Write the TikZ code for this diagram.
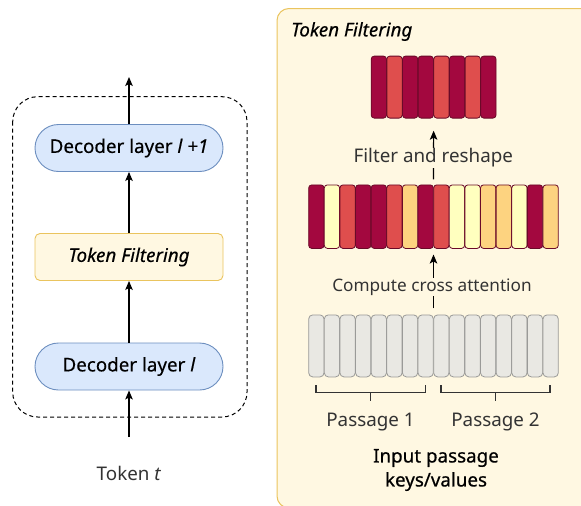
\documentclass[tikz,border=0pt]{standalone}
\usepackage{fontspec}
\setmainfont{Noto Sans}
\newfontfamily\heavy[FakeBold=0.6]{Noto Sans}
\newfontfamily\medfont[FakeBold=0.35]{Noto Sans}
\usetikzlibrary{arrows.meta,fit}
\definecolor{cD}{HTML}{A3083F}
\definecolor{cR}{HTML}{DF4E4D}
\definecolor{cO}{HTML}{FDD380}
\definecolor{cY}{HTML}{FFFFBF}
\definecolor{cellline}{HTML}{6A0A28}
\definecolor{grayfill}{HTML}{E9E8E3}
\definecolor{grayline}{HTML}{9A9A98}
\definecolor{panelfill}{HTML}{FFF8E2}
\definecolor{panelline}{HTML}{EAC45E}
\definecolor{bluefill}{HTML}{DAE8FC}
\definecolor{blueline}{HTML}{6C8EBF}
\definecolor{txtgray}{HTML}{333333}
\begin{document}
\begin{tikzpicture}[x=1pt,y=-1pt,
  font=\fontsize{18.8}{24}\selectfont,
  arr/.style={line width=1.2pt,-{Stealth[length=9pt,width=7.5pt,inset=2pt]}},
  cell/.style={draw=cellline,line width=0.8pt,rounded corners=3pt,minimum width=15.3pt,
    minimum height=62pt,inner sep=0pt,anchor=north west},
  gcell/.style={draw=grayline,fill=grayfill,line width=0.8pt,rounded corners=4pt,minimum width=15.3pt,
    minimum height=62pt,inner sep=0pt,anchor=north west},
  decbox/.style={draw=blueline,fill=bluefill,line width=0.9pt,rounded corners=23.5pt,
    minimum width=188pt,minimum height=47pt,inner sep=0pt,font=\medfont\fontsize{18.8}{24}\selectfont},
  tfbox/.style={draw=panelline,fill=panelfill,line width=0.9pt,rounded corners=5pt,
    minimum width=188pt,minimum height=47pt,inner sep=0pt,font=\medfont\fontsize{18.8}{24}\selectfont},
  lbl/.style={fill=panelfill,inner sep=1pt,text=txtgray},
  brk/.style={draw=txtgray,line width=1.2pt}]
\useasboundingbox (0,0) rectangle (581,506);
\clip (0,0) rectangle (581,506);
% right panel
\draw[panelline,fill=panelfill,line width=1pt,rounded corners=12pt] (277,8.5) rectangle (640,508);
\node[anchor=west,inner sep=0pt,font=\medfont\fontsize{18.8}{24}\selectfont] (title) at (291,31.5) {\itshape Token Filtering};
% left column
\draw[dashed,dash pattern=on 4pt off 3pt,line width=1pt,rounded corners=25pt] (12.7,96.7) rectangle (247,417);
\node[decbox] (dec2) at (129,148) {Decoder layer \textit{l +1}};
\node[tfbox] (tf) at (129,257) {\itshape Token Filtering};
\node[decbox] (dec1) at (129,366.5) {Decoder layer \textit{l}};
\node[text=txtgray] (tok) at (129,473) {Token \textit{t}};
\coordinate (in) at (129,437);
\coordinate (out) at (129,77);
\draw[arr] (in) -- (dec1.south);
\draw[arr] (dec1.north) -- (tf.south);
\draw[arr] (tf.north) -- (dec2.south);
\draw[arr] (dec2.north) -- (out);
% top row
\foreach \c [count=\i from 0] in {cD,cR,cD,cD,cR,cD,cR,cD}
  \node[cell,fill=\c] (t\i) at (370.8+\i*15.65,55.7) {};
% middle row
\foreach \c [count=\i from 0] in {cD,cY,cR,cD,cD,cR,cO,cD,cR,cY,cY,cO,cO,cY,cD,cO}
  \node[cell,fill=\c,minimum height=63.5pt] (m\i) at (308.3+\i*15.62,184.5) {};
% bottom row
\foreach \i in {0,...,15}
  \node[gcell] (b\i) at (308.3+\i*15.62,314.5) {};
\node[fit=(t0)(t7),inner sep=0pt] (toprow) {};
\node[fit=(m0)(m15),inner sep=0pt] (midrow) {};
\node[fit=(b0)(b15),inner sep=0pt] (botrow) {};
% arrows
\draw[arr] ([yshift=5pt]midrow.north) -- ([yshift=-12pt]toprow.south);
\node[lbl] (fr) at (433.3,158) {Filter and reshape};
\draw[arr] ([yshift=6pt]botrow.north) -- ([yshift=-5.5pt]midrow.south);
\node[lbl,font=\fontsize{17.2}{22}\selectfont] (cca) at (432,287) {Compute cross attention};
% brackets
\coordinate (p1a) at (316,385);
\coordinate (p1b) at (425.7,385);
\coordinate (p2a) at (441,385);
\coordinate (p2b) at (550,385);
\draw[brk] (p1a) -- ++(0,7.7) -| (p1b);
\draw[brk] (p2a) -- ++(0,7.7) -| (p2b);
\draw[brk] (370.8,392.7) -- (370.8,400.5);
\draw[brk] (495.5,392.7) -- (495.5,400.5);
\node[text=txtgray] (pa1) at (370.5,422) {Passage 1};
\node[text=txtgray] (pa2) at (495.5,422) {Passage 2};
\node[align=center,font=\heavy\fontsize{18.8}{24}\selectfont] (inp) at (436,470) {Input passage\\keys/values};
\end{tikzpicture}
\end{document}
